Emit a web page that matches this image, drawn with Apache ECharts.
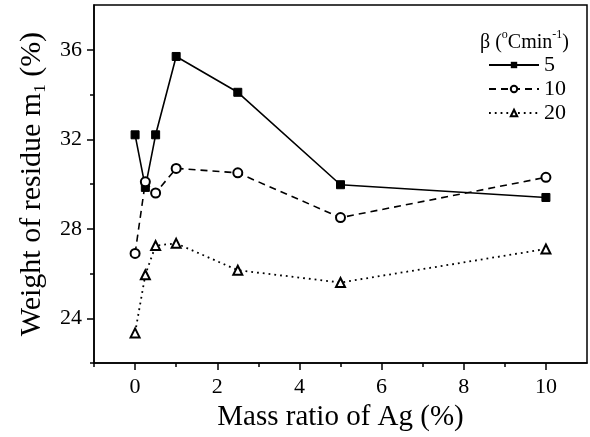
<!DOCTYPE html>
<html>
<head>
<meta charset="utf-8">
<script src="https://cdn.jsdelivr.net/npm/echarts@6/dist/echarts.min.js"></script>
<style>
  html, body { margin: 0; padding: 0; background: #fff; }
  #chart { width: 590px; height: 437px; }
</style>
</head>
<body>
<div id="chart"></div>
<script>
// Residue weight m1 vs. Ag mass ratio at three heating rates
const massRatio = [0, 0.25, 0.5, 1, 2.5, 5, 10];
const beta5  = [32.2, 29.85, 32.2, 35.7, 34.1, 29.97, 29.4];
const beta10 = [26.9, 30.1, 29.6, 30.7, 30.5, 28.5, 30.3];
const beta20 = [23.35, 25.95, 27.25, 27.35, 26.15, 25.6, 27.1];

const rateNames = ['5', '10', '20'];

const xMajorTicks = [0, 2, 4, 6, 8, 10];
const xMinorTicks = [-1, 1, 3, 5, 7, 9];
const yMajorTicks = [24, 28, 32, 36];
const yMinorTicks = [22, 26, 30, 34];

const FONT = '"Liberation Serif", "DejaVu Serif", serif';

const chart = echarts.init(document.getElementById('chart'));

function pairs(ys) {
  return massRatio.map((x, i) => [x, ys[i]]);
}

chart.setOption({
  animation: false,
  backgroundColor: '#fff',
  grid: {
    left: 94, right: 3, top: 5, bottom: 73,
    show: true, borderColor: '#000', borderWidth: 1.5
  },
  title: {
    left: 475, top: 24,
    text: '{a|β (}{s|o}{a|Cmin}{s|-1}{a|)}',
    textStyle: {
      fontWeight: 'normal',
      rich: {
        a: { fontFamily: FONT, fontSize: 20, fontWeight: 'normal', color: '#000', lineHeight: 24, verticalAlign: 'bottom' },
        s: { fontFamily: FONT, fontSize: 12, fontWeight: 'normal', color: '#000', lineHeight: 24, verticalAlign: 'top' }
      }
    }
  },
  legend: {
    orient: 'vertical',
    left: 483, top: 49,
    itemWidth: 50, itemHeight: 8, itemGap: 2,
    data: rateNames,
    textStyle: {
      fontFamily: FONT, fontSize: 22, color: '#000',
      lineHeight: 22, width: 20, align: 'right'
    }
  },
  xAxis: [{
    type: 'value', min: -1, max: 11,
    name: 'Mass ratio of Ag (%)',
    nameLocation: 'middle', nameGap: 27,
    nameTextStyle: { fontFamily: FONT, fontSize: 29, color: '#000' },
    axisLine: { show: true, onZero: false, lineStyle: { color: '#000', width: 1.5 } },
    axisTick: { show: true, inside: false, length: 7, customValues: xMajorTicks,
                lineStyle: { color: '#000', width: 1.5 } },
    axisLabel: { customValues: xMajorTicks, margin: 13,
                 fontFamily: FONT, fontSize: 22, color: '#000' },
    splitLine: { show: false }
  }, {
    type: 'value', min: -1, max: 11, position: 'bottom',
    axisLine: { show: false, onZero: false },
    axisTick: { show: true, length: 4, customValues: xMinorTicks,
                lineStyle: { color: '#000', width: 1.5 } },
    axisLabel: { show: false },
    splitLine: { show: false }
  }],
  yAxis: [{
    type: 'value', min: 22, max: 38,
    name: 'Weight of residue m{sub|1} (%)',
    nameLocation: 'middle', nameGap: 45,
    nameTextStyle: {
      fontFamily: FONT, fontSize: 30, color: '#000',
      rich: { sub: { fontFamily: FONT, fontSize: 17, color: '#000', verticalAlign: 'bottom', lineHeight: 34 } }
    },
    axisLine: { show: true, onZero: false, lineStyle: { color: '#000', width: 1.5 } },
    axisTick: { show: true, length: 7, customValues: yMajorTicks,
                lineStyle: { color: '#000', width: 1.5 } },
    axisLabel: { customValues: yMajorTicks, margin: 12,
                 fontFamily: FONT, fontSize: 22, color: '#000' },
    splitLine: { show: false }
  }, {
    type: 'value', min: 22, max: 38, position: 'left',
    axisLine: { show: false, onZero: false },
    axisTick: { show: true, length: 4, customValues: yMinorTicks,
                lineStyle: { color: '#000', width: 1.5 } },
    axisLabel: { show: false },
    splitLine: { show: false }
  }],
  series: [{
    name: rateNames[0], type: 'line', data: pairs(beta5),
    symbol: 'rect', symbolSize: 8,
    itemStyle: { color: '#000', borderColor: '#000' },
    lineStyle: { color: '#000', width: 1.6, type: 'solid' },
    z: 3
  }, {
    name: rateNames[1], type: 'line', data: pairs(beta10),
    symbol: 'emptyCircle', symbolSize: 9,
    itemStyle: { color: '#000', borderWidth: 1.2 },
    lineStyle: { color: '#000', width: 1.6, type: [7, 5] },
    z: 4
  }, {
    name: rateNames[2], type: 'line', data: pairs(beta20),
    symbol: 'emptyTriangle', symbolSize: 9,
    itemStyle: { color: '#000', borderWidth: 1.2 },
    lineStyle: { color: '#000', width: 1.8, type: [1.8, 4] },
    z: 5
  }]
});
</script>
</body>
</html>
